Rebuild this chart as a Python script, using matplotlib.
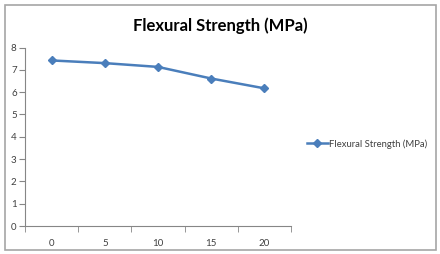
import matplotlib
matplotlib.use("Agg")
import matplotlib.pyplot as plt
from matplotlib.patches import Rectangle

categories = ["0", "5", "10", "15", "20"]
values = [7.42, 7.30, 7.13, 6.61, 6.17]
series_name = "Flexural Strength (MPa)"
title = "Flexural Strength (MPa)"
yticks = [0, 1, 2, 3, 4, 5, 6, 7, 8]

plt.rcParams['font.family'] = ['Lato', 'DejaVu Sans']

fig = plt.figure(figsize=(4.4, 2.54), dpi=100)
fig.patch.set_facecolor('white')
fig.add_artist(Rectangle((5/440, 4/254), 431/440, 245/254, transform=fig.transFigure,
                         fill=False, edgecolor='#a6a6a6', linewidth=1.2))

ax = fig.add_axes([25/440, 28/254, 266/440, 178.5/254])
x = list(range(len(categories)))
line, = ax.plot(x, values, color='#4a7ebb', linewidth=1.8, marker='D', markersize=4.5,
                markerfacecolor='#4a7ebb', markeredgecolor='#4a7ebb', label=series_name)
ax.set_xlim(-0.5, len(categories) - 0.5)
ax.set_ylim(0, 8)
ax.set_yticks(yticks)
ax.set_xticks(x)
ax.set_xticklabels(categories)
ax.set_xticks([i - 0.5 for i in range(len(categories) + 1)], minor=True)
ax.tick_params(axis='x', which='major', length=0, pad=9, labelsize=7, labelcolor='#404040')
ax.tick_params(axis='x', which='minor', length=4, color='#868686', direction='out')
ax.tick_params(axis='y', length=4, color='#868686', direction='out', pad=2, labelsize=7, labelcolor='#404040')
for s in ['top', 'right']:
    ax.spines[s].set_visible(False)
for s in ['left', 'bottom']:
    ax.spines[s].set_color('#868686')
    ax.spines[s].set_linewidth(0.8)

fig.text(0.5, 228/254, title, ha='center', va='center', fontsize=12, fontweight='bold', color='black')

leg = fig.legend(handles=[line], loc='center left', bbox_to_anchor=(302/440, 110/254),
                 frameon=False, fontsize=6.8, handlelength=2.2, handletextpad=0.2, borderpad=0)
for t in leg.get_texts():
    t.set_color('#404040')

fig.savefig('out.png', dpi=100, facecolor='white')
